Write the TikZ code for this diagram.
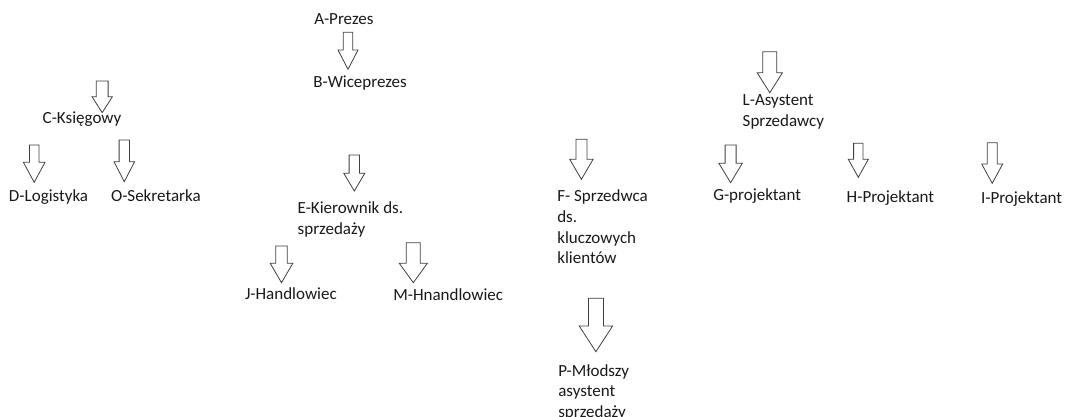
\documentclass[tikz,border=0pt]{standalone}
\usepackage{fontspec}
\setmainfont{Carlito}
\newcommand{\barrow}[6]{%
  \draw[blockarrow] ({#1-#3},#2) -- ({#1+#3},#2) -- ({#1+#3},#5) -- ({#1+#4},#5)
    -- (#1,#6) -- ({#1-#4},#5) -- ({#1-#3},#5) -- cycle;}
\begin{document}
\begin{tikzpicture}[x=1pt,y=-1pt,
  blockarrow/.style={draw=black!75,line width=0.8pt,fill=white,line join=miter},
  lbl/.style={anchor=base west,inner sep=0pt,outer sep=0pt,text=black!90,
    font=\fontsize{17}{20.7}\selectfont}]
\useasboundingbox (0,0) rectangle (1065,417);
% arrows
\barrow{348}{32.3}{4.7}{10}{50}{69.3}
\barrow{102.2}{81}{5.9}{10.2}{96.7}{112.7}
\barrow{34.2}{145}{4.7}{10.8}{162.3}{182.3}
\barrow{124.3}{140}{5.2}{10.3}{161.7}{181.7}
\barrow{354.3}{155}{5.2}{10.5}{173.3}{191}
\barrow{281.5}{246}{5.8}{11.3}{263.3}{282.7}
\barrow{413.3}{242.7}{7}{14}{263.3}{282.7}
\barrow{769.8}{51.7}{7}{12.7}{72.7}{92.7}
\barrow{581.4}{139.3}{5.5}{11.7}{159.3}{179.3}
\barrow{730.6}{145}{5.5}{11.7}{163.3}{182.7}
\barrow{858.3}{143.3}{4.7}{10}{159.3}{177.3}
\barrow{992.2}{142.7}{5}{10.5}{164}{183.3}
\barrow{595.9}{298.3}{7.5}{16.7}{326}{351.7}
% labels
\node[lbl] (a) at (314.3,25) {A-Prezes};
\node[lbl] (b) at (313.3,87.3) {B-Wiceprezes};
\node[lbl] (c) at (42.7,124) {C-Księgowy};
\node[lbl] (d) at (9,201.7) {D-Logistyka};
\node[lbl] (o) at (111,201.7) {O-Sekretarka};
\node[lbl] (e) at (297.7,213.3) {\begin{tabular}[t]{@{}l@{}}E-Kierownik ds.\\sprzedaży\end{tabular}};
\node[lbl] (j) at (245,299.3) {J-Handlowiec};
\node[lbl] (m) at (393.3,300.7) {M-Hnandlowiec};
\node[lbl] (l) at (742.7,106) {\begin{tabular}[t]{@{}l@{}}L-Asystent\\Sprzedawcy\end{tabular}};
\node[lbl] (f) at (557.3,201.7) {\begin{tabular}[t]{@{}l@{}}F- Sprzedwca\\ds.\\kluczowych\\klientów\end{tabular}};
\node[lbl] (g) at (713.3,200) {G-projektant};
\node[lbl] (h) at (846.7,202.3) {H-Projektant};
\node[lbl] (i) at (981,203.3) {I-Projektant};
\node[lbl] (p) at (558.3,376) {\begin{tabular}[t]{@{}l@{}}P-Młodszy\\asystent\\sprzedaży\end{tabular}};
\end{tikzpicture}
\end{document}
